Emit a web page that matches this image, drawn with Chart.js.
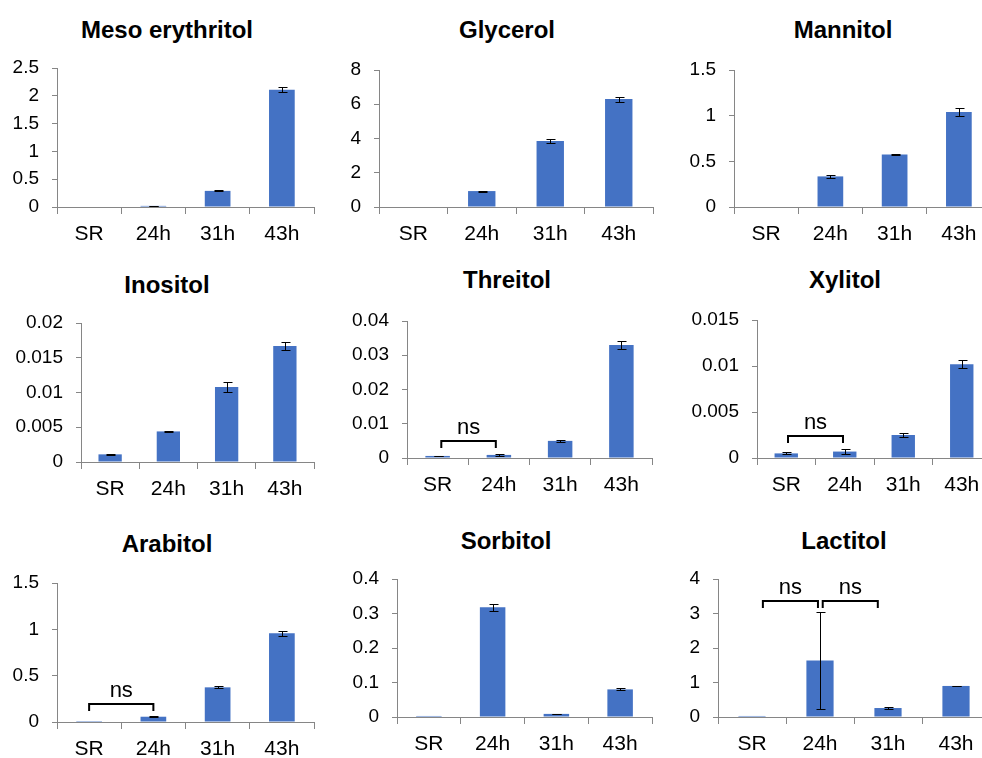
<!DOCTYPE html>
<html>
<head>
<meta charset="utf-8">
<script src="https://cdn.jsdelivr.net/npm/chart.js@4.4.0/dist/chart.umd.min.js"></script>
<style>
  html, body { margin: 0; padding: 0; background: #fff; overflow: hidden; }
  #wrap { position: relative; width: 982px; height: 758px; overflow: hidden; }
  #wrap canvas { position: absolute; }
  .title {
    position: absolute;
    font: bold 24px/28.8px "Liberation Sans", Arial, sans-serif;
    color: #000;
    white-space: nowrap;
    transform: translateX(-50%);
  }
</style>
</head>
<body>
<div id="wrap"></div>
<script>
const categories = ['SR', '24h', '31h', '43h'];
const titles = ['Meso erythritol', 'Glycerol', 'Mannitol', 'Inositol', 'Threitol',
                'Xylitol', 'Arabitol', 'Sorbitol', 'Lactitol'];

// means and error (+/-) per sugar alcohol
const mesoErythritol = [0, 0.02, 0.29, 2.11];
const mesoErythritolErr = [0, 0.004, 0.01, 0.045];
const glycerol = [0, 0.93, 3.85, 6.3];
const glycerolErr = [0, 0.03, 0.1, 0.15];
const mannitol = [0, 0.335, 0.575, 1.04];
const mannitolErr = [0, 0.02, 0.005, 0.045];
const inositol = [0.0011, 0.0044, 0.0108, 0.0167];
const inositolErr = [0.00005, 0.0001, 0.0007, 0.0006];
const threitol = [0.0006, 0.0009, 0.005, 0.033];
const threitolErr = [0.0001, 0.0002, 0.0003, 0.00125];
const xylitol = [0.0005, 0.0007, 0.0025, 0.0102];
const xylitolErr = [0.0001, 0.0003, 0.0002, 0.0004];
const arabitol = [0.01, 0.057, 0.374, 0.957];
const arabitolErr = [0, 0.005, 0.01, 0.027];
const sorbitol = [0.003, 0.318, 0.009, 0.08];
const sorbitolErr = [0, 0.01, 0.001, 0.003];
const lactitol = [0.03, 1.64, 0.26, 0.9];
const lactitolErr = [0, 1.41, 0.02, 0.01];

// y axis tick labels (0..max by step)
const yMax = [2.5, 8, 1.5, 0.02, 0.04, 0.015, 1.5, 0.4, 4];
const yStep = [0.5, 2, 0.5, 0.005, 0.01, 0.005, 0.5, 0.1, 1];

// "ns" comparisons: panel, from category, to category, bracket level (data units)
const nsPanel = [4, 5, 6, 8, 8];
const nsFrom = ['SR', 'SR', 'SR', 'SR', '24h'];
const nsTo = ['24h', '24h', '24h', '24h', '31h'];
const nsLevel = [0.005, 0.0024, 0.194, 3.36, 3.36];

const seriesList = [mesoErythritol, glycerol, mannitol, inositol, threitol,
                    xylitol, arabitol, sorbitol, lactitol];
const errList = [mesoErythritolErr, glycerolErr, mannitolErr, inositolErr, threitolErr,
                 xylitolErr, arabitolErr, sorbitolErr, lactitolErr];

// layout: canvas left, top, width, height, y-axis x, plot right, title cx, title cy, top tick y, zero y
const boxes = [
  [0, 0, 327, 255, 57, 314, 167, 30, 68, 207],
  [330, 0, 327, 255, 379, 653, 507, 30, 70, 207],
  [660, 0, 335, 255, 734, 991, 843, 30, 70, 207],
  [0, 255, 327, 245, 81, 314, 167, 285, 323, 462],
  [330, 255, 327, 245, 407, 652, 507, 280, 321, 458],
  [660, 255, 335, 245, 757, 991, 845, 280, 320, 458],
  [0, 500, 327, 258, 57, 314, 167, 544, 583, 722],
  [330, 500, 327, 258, 397, 652, 506, 541, 579, 717],
  [660, 500, 335, 258, 718, 990, 844, 541, 579, 717]
];
// bracket end insets (fraction of a category)
const nsInset = [[0.06, 0.05], [0.03, 0.03], [0, 0], [0.16, 0.03], [0.04, 0.15]];

const FONT = '"Liberation Sans", Arial, sans-serif';
const AXIS_GREY = '#868686';
const BAR_BLUE = '#4472C4';

const errorBars = {
  id: 'errorBars',
  afterDatasetsDraw(chart) {
    const ctx = chart.ctx;
    const y = chart.scales.y;
    chart.data.datasets.forEach((ds, di) => {
      const meta = chart.getDatasetMeta(di);
      meta.data.forEach((bar, j) => {
        const e = ds.errors[j];
        if (!e) return;
        const v = ds.data[j];
        const x = Math.round(bar.x) + 0.5;
        const hi = Math.round(y.getPixelForValue(v + e)) + 0.5;
        const lo = Math.round(y.getPixelForValue(Math.max(v - e, 0))) + 0.5;
        ctx.save();
        ctx.strokeStyle = '#000';
        ctx.lineWidth = 1;
        ctx.beginPath();
        ctx.moveTo(x, hi); ctx.lineTo(x, lo);
        ctx.moveTo(x - 4, hi); ctx.lineTo(x + 5, hi);
        ctx.moveTo(x - 4, lo); ctx.lineTo(x + 5, lo);
        ctx.stroke();
        ctx.restore();
      });
    });
  }
};

const nsBrackets = {
  id: 'nsBrackets',
  afterDatasetsDraw(chart, args, opts) {
    const items = opts.items || [];
    if (!items.length) return;
    const ctx = chart.ctx;
    const xs = chart.scales.x, ys = chart.scales.y;
    items.forEach(it => {
      const x1 = xs.getPixelForValue(categories.indexOf(it.from) + it.inset[0]);
      const x2 = xs.getPixelForValue(categories.indexOf(it.to) - it.inset[1]);
      const yb = Math.round(ys.getPixelForValue(it.level));
      ctx.save();
      ctx.strokeStyle = '#000';
      ctx.lineWidth = 2;
      ctx.beginPath();
      ctx.moveTo(x1, yb + 7);
      ctx.lineTo(x1, yb);
      ctx.lineTo(x2, yb);
      ctx.lineTo(x2, yb + 7);
      ctx.stroke();
      ctx.fillStyle = '#000';
      ctx.font = '22px ' + FONT;
      ctx.textAlign = 'center';
      ctx.textBaseline = 'middle';
      ctx.fillText('ns', (x1 + x2) / 2, yb - 13);
      ctx.restore();
    });
  }
};

const wrap = document.getElementById('wrap');

seriesList.forEach((series, i) => {
  const [L, T, W, H, axisX, right, titleX, titleY, topY, zeroY] = boxes[i];

  const title = document.createElement('div');
  title.className = 'title';
  title.textContent = titles[i];
  title.style.left = titleX + 'px';
  title.style.top = (titleY - 14.4) + 'px';
  wrap.appendChild(title);

  const canvas = document.createElement('canvas');
  canvas.width = W;
  canvas.height = H;
  canvas.style.left = L + 'px';
  canvas.style.top = T + 'px';
  wrap.appendChild(canvas);

  const padRight = L + W - right;
  const yWidth = axisX - L;
  const xHeight = T + H - zeroY;

  const brackets = [];
  nsPanel.forEach((p, k) => {
    if (p === i) brackets.push({ from: nsFrom[k], to: nsTo[k], level: nsLevel[k], inset: nsInset[k] });
  });

  new Chart(canvas, {
    type: 'bar',
    data: {
      labels: categories,
      datasets: [{
        data: series,
        errors: errList[i],
        backgroundColor: BAR_BLUE,
        borderWidth: 0,
        categoryPercentage: 1,
        barPercentage: 0.4
      }]
    },
    options: {
      responsive: false,
      animation: false,
      events: [],
      layout: { padding: { top: topY - T, bottom: 0, left: 0, right: padRight } },
      plugins: {
        legend: { display: false },
        tooltip: { enabled: false },
        title: { display: false },
        nsBrackets: { items: brackets }
      },
      scales: {
        x: {
          afterFit: s => { s.height = xHeight; },
          grid: { offset: true, drawOnChartArea: false, drawTicks: true, tickLength: 7, color: AXIS_GREY },
          border: { color: AXIS_GREY, width: 1 },
          ticks: { color: '#000', font: { family: FONT, size: 21 }, padding: 8, maxRotation: 0, autoSkip: false }
        },
        y: {
          min: 0,
          max: yMax[i],
          afterFit: s => { s.width = yWidth; },
          grid: { drawOnChartArea: false, drawTicks: true, tickLength: 5, color: AXIS_GREY },
          border: { color: AXIS_GREY, width: 1 },
          ticks: {
            stepSize: yStep[i],
            color: '#000',
            font: { family: FONT, size: 19 },
            padding: 13,
            callback: v => String(+v.toFixed(6))
          }
        }
      }
    },
    plugins: [errorBars, nsBrackets]
  });
});
</script>
</body>
</html>
